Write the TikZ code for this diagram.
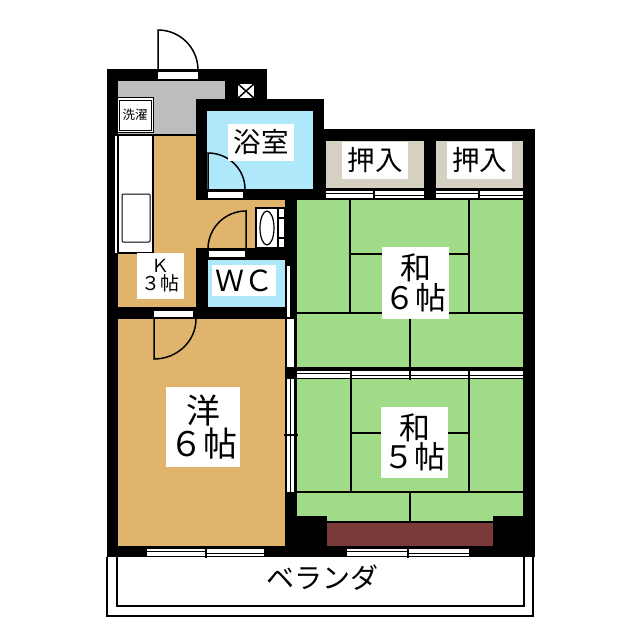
\documentclass[tikz,border=0pt]{standalone}
\usepackage{fontspec}
\setmainfont{Noto Sans CJK JP}
\definecolor{floortan}{HTML}{E0B46C}
\definecolor{tatami}{HTML}{A0DC88}
\definecolor{bathblue}{HTML}{AEE8FA}
\definecolor{closetgrey}{HTML}{D6D0C2}
\definecolor{entrygrey}{HTML}{BDBDBD}
\definecolor{sillbrown}{HTML}{7A3A3A}
\newcommand{\lbl}[2]{\fontsize{#1}{#2}\selectfont}

\begin{document}
\begin{tikzpicture}[x=1pt, y=-1pt]
\tikzset{wall/.style = {fill=black, draw=none}}
\tikzset{thin line/.style = {draw=black, line width=1.2pt}}
\tikzset{label box/.style = {fill=white, inner sep=0pt, align=center, text=black}}
\useasboundingbox (0,0) rectangle (640,640);
\fill[white] (0,0) rectangle (640,640);

% balcony
\draw[line width=1.2pt] (107,557) -- (107,616) -- (533,616) -- (533,557);
\draw[line width=1.2pt] (117,557) -- (117,606) -- (524,606) -- (524,557);

% walls
\fill[wall] (107,69) rectangle (267,99);
\fill[wall] (107,69) rectangle (118,557);
\fill[wall] (196,99) rectangle (324,200);
\fill[wall] (324,129) rectangle (535,141);
\fill[wall] (523,129) rectangle (535,557);
\fill[wall] (324,129) rectangle (326,200);
\fill[wall] (424,129) rectangle (436,200);
\fill[wall] (297,188) rectangle (535,200);
\fill[wall] (285,200) rectangle (297,557);
\fill[wall] (196,248) rectangle (297,260);
\fill[wall] (196,248) rectangle (208,319);
\fill[wall] (107,307) rectangle (297,319);
\fill[wall] (285,367) rectangle (535,379);
\fill[wall] (107,546) rectangle (535,557);

% floors
\fill[entrygrey] (118,81) rectangle (225,99);
\fill[entrygrey] (118,99) rectangle (196,135);
\fill[floortan] (118,135) rectangle (196,307);
\fill[floortan] (196,200) rectangle (285,248);
\fill[floortan] (118,319) rectangle (285,546);
\fill[bathblue] (207,111) rectangle (313,189);
\fill[bathblue] (208,260) rectangle (285,307);
\fill[closetgrey] (326,141) rectangle (424,188);
\fill[closetgrey] (436,141) rectangle (523,188);
\fill[tatami] (297,200) rectangle (523,367);
\fill[tatami] (297,379) rectangle (523,522);
\fill[sillbrown] (327,522) rectangle (493,546);
\fill[wall] (297,516) rectangle (327,546);
\fill[wall] (493,516) rectangle (523,546);

% tatami joints
\draw[thin line] (350,200) -- (350,313) (469,200) -- (469,313) (350,254) -- (469,254);
\draw[thin line] (297,313) -- (523,313) (410,313) -- (410,367);
\draw[thin line] (351,379) -- (351,492) (469,379) -- (469,492) (351,433) -- (469,433);
\draw[thin line] (297,492) -- (523,492) (410,492) -- (410,522) (327,522) -- (493,522);

% duct
\fill[white] (237,83) rectangle (255,99);
\draw[line width=1.5pt] (237,83) -- (255,99) (255,83) -- (237,99);
\draw[line width=1.2pt] (237,83) rectangle (255,99);

% washer place
\draw[line width=1pt, fill=white] (117,97) rectangle (153,132);
\draw[line width=1pt] (119,100) rectangle (151,130);

% kitchen counter and sink
\fill[white] (115,136) rectangle (118,253);
\draw[thin line, fill=white] (118,135) rectangle (153,253);
\draw[line width=1pt, fill=white, rounded corners=1pt] (122,194) rectangle (150,242);
\draw[thin line] (153,135) -- (196,135);

% toilet
\draw[thin line, fill=white] (256,208) rectangle (285,248);
\draw[line width=1.2pt] (278,208) -- (278,248) (278,218) -- (285,218) (278,238) -- (285,238);
\draw[line width=1.2pt, fill=white] (267,228) ellipse (7 and 17);

% door openings
\fill[white] (158,72) rectangle (198,79);
\fill[white] (208,192) rectangle (243,198);
\fill[white] (209,251) rectangle (245,257);
\fill[white] (154,311) rectangle (193,317);

% door leaves
\draw[line width=1.5pt] (158,72) -- (158,30) arc[start angle=90, end angle=0, x radius=40, y radius=-40];
\draw[line width=1.5pt] (208,189) -- (208,153) arc[start angle=90, end angle=0, x radius=37, y radius=-36];
\draw[line width=1.5pt] (246,249) -- (246,211) arc[start angle=90, end angle=180, x radius=38, y radius=-38];
\draw[line width=1.5pt] (154,319) -- (154,359) arc[start angle=270, end angle=360, x radius=42, y radius=-40];

% sliding doors, horizontal
\foreach \xa/\xb/\xm/\ya in {326/424/374/190, 436/523/479/190, 297/523/351/370, 147/264/206/548, 347/469/408/548}
{\fill[white] (\xa,\ya) rectangle (\xb,\ya+8);
 \draw[line width=.8pt] (\xa,\ya) -- (\xb,\ya) (\xa,\ya+8) -- (\xb,\ya+8);
 \draw[line width=.8pt] (\xa,\ya+3) -- (\xm,\ya+3) (\xm,\ya+5) -- (\xb,\ya+5);
 \draw[line width=1.6pt] (\xm,\ya-2) -- (\xm,\ya+10);}
\foreach \xm in {410, 469}
{\draw[line width=1.6pt] (\xm,368) -- (\xm,380);}

% sliding doors, vertical
\fill[white] (287,266) rectangle (290,317);
\fill[white] (287,319) rectangle (294,367);
\fill[white] (287,379) rectangle (294,492);
\draw[line width=.8pt] (290,379) -- (290,492);
\draw[line width=1.6pt] (284,435) -- (298,435);

% labels
\node[label box, minimum width=27pt, minimum height=14pt] (washer) at (135,115) {\lbl{12.5}{14}洗濯};
\node[label box, minimum width=66pt, minimum height=37pt] (bath) at (261,142.5) {\lbl{27.5}{30}浴室};
\node[label box, minimum width=47pt, minimum height=46pt] (kitchen) at (160.5,276) {\lbl{18}{19}Ｋ\\[1pt]\lbl{19}{19}３帖};
\node[label box, minimum width=64pt, minimum height=31pt] (wc) at (244,280.5) {\lbl{29}{30}ＷＣ};
\node[label box, minimum width=66pt, minimum height=37pt] (closeta) at (375,160.5) {\lbl{27.5}{30}押入};
\node[label box, minimum width=65pt, minimum height=37pt] (closetb) at (479.5,160.5) {\lbl{27.5}{30}押入};
\node[label box, minimum width=67pt, minimum height=72pt] (room six) at (415.5,283) {\lbl{31}{33}和\\\lbl{31}{33}６帖};
\node[label box, minimum width=67pt, minimum height=71pt] (room five) at (414.5,442.5) {\lbl{31}{33}和\\\lbl{31}{33}５帖};
\node[label box, minimum width=74pt, minimum height=80pt] (western) at (203,427) {\lbl{34}{37}洋\\\lbl{34}{37}６帖};
\node[label box] (veranda) at (322,578) {\lbl{28}{30}ベランダ};
\end{tikzpicture}
\end{document}
